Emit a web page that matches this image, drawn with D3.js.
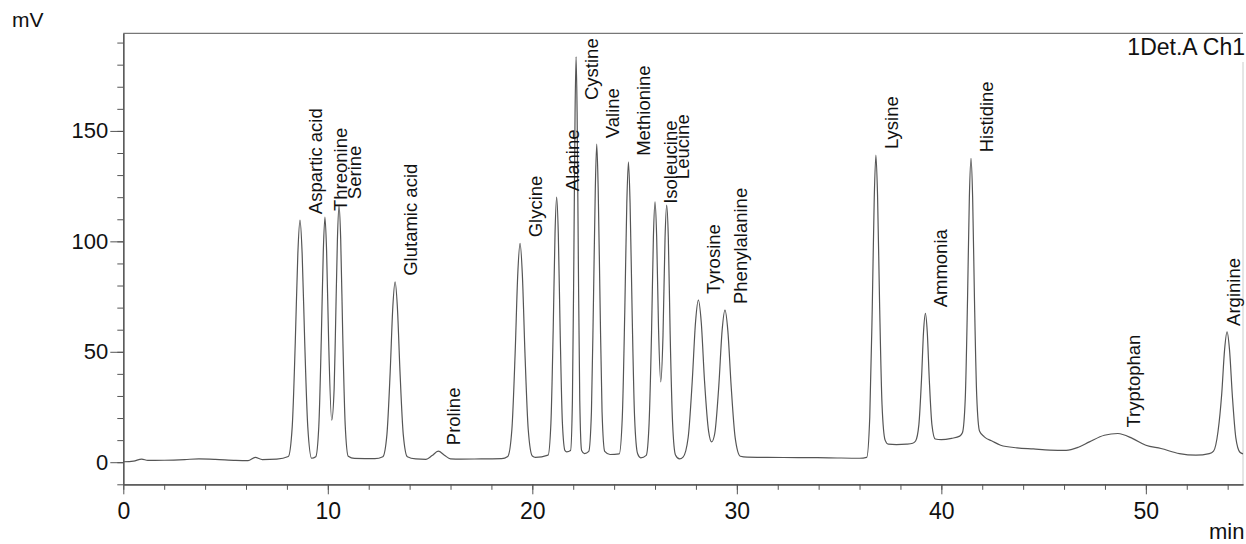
<!DOCTYPE html>
<html>
<head>
<meta charset="utf-8">
<script src="https://cdn.jsdelivr.net/npm/d3@7"></script>
<style>
  html, body { margin: 0; padding: 0; background: #fff; }
  svg { display: block; font-family: "Liberation Sans", Arial, sans-serif; }
</style>
</head>
<body>
<svg id="chart" width="1246" height="544"></svg>
<script>
// ---- data ----
const retention = [
  0, 0.5, 0.9, 1.2, 2.0, 3.0, 3.7, 4.5, 5.5, 6.1, 6.45, 6.8, 7.5,
  8.07, 8.26, 8.41, 8.535, 8.64, 8.745, 8.87, 9.02, 9.21,
  9.41, 9.56, 9.68, 9.78, 9.86, 9.94, 10.04, 10.19, 10.31, 10.37, 10.47, 10.55, 10.63, 10.73, 10.85, 11.0, 11.3,
  12.3, 12.69, 12.89, 13.05, 13.18, 13.29, 13.40, 13.53, 13.69, 13.89,
  14.3, 14.8, 15.1, 15.4, 15.7, 16.0, 16.5, 17.5, 18.5,
  18.8, 19.0, 19.16, 19.29, 19.4, 19.51, 19.64, 19.8, 20.0, 20.15,
  20.77, 20.91, 21.02, 21.11, 21.19, 21.27, 21.36, 21.47, 21.6, 21.68,
  21.87, 21.96, 22.03, 22.09, 22.14, 22.19, 22.25, 22.32, 22.41, 22.55,
  22.76, 22.89, 22.99, 23.08, 23.15, 23.22, 23.31, 23.41, 23.54, 23.8,
  24.25, 24.4, 24.52, 24.62, 24.7, 24.78, 24.88, 25.0, 25.15, 25.3,
  25.57, 25.71, 25.83, 25.92, 26.0, 26.08, 26.17, 26.28, 26.39, 26.49, 26.57, 26.65, 26.74, 26.86, 27.0, 27.2,
  27.37, 27.62, 27.82, 27.98, 28.12, 28.26, 28.42, 28.62, 28.77, 28.92, 29.12, 29.28, 29.42, 29.56, 29.72, 29.92, 30.17,
  30.5, 31.5, 33.0, 34.5, 36.0,
  36.35, 36.5, 36.62, 36.72, 36.8, 36.88, 36.98, 37.1, 37.25, 37.4,
  37.8, 38.3, 38.6,
  38.74, 38.9, 39.03, 39.13, 39.22, 39.31, 39.41, 39.54, 39.7,
  40.0, 40.5, 40.9,
  41.03, 41.17, 41.28, 41.37, 41.45, 41.53, 41.62, 41.73, 41.87,
  42.1, 42.5, 42.9, 43.7, 44.5, 45.3,
  46.1, 46.7, 47.24, 47.97, 48.63, 49.36, 50.0, 50.74, 51.64, 52.45, 53.1,
  53.31, 53.53, 53.71, 53.85, 53.97, 54.09, 54.23, 54.4, 54.6, 54.75
];
const signal = [
  0.2, 0.5, 1.4, 0.8, 0.9, 1.2, 1.5, 1.3, 0.8, 0.7, 2.2, 1.2, 1.4,
  2.6, 16.1, 54.5, 94.5, 109.6, 94.5, 54.5, 16.1, 1.8,
  2.5, 16.3, 55.2, 95.8, 111, 95.8, 55, 19, 33.5, 57.5, 101, 116.4, 101, 57.5, 17, 2.7, 1.7,
  1.6, 2.5, 12.5, 40.9, 70.5, 81.7, 70.5, 40.9, 12.5, 2.5,
  1.5, 1.3, 3.0, 5.0, 3.2, 1.5, 1.4, 1.5, 1.6,
  2.6, 14.8, 49.4, 85.5, 99.1, 85.5, 49.4, 14.8, 2.8, 2.2,
  3.2, 17.9, 59.8, 103.5, 120, 103.5, 59.8, 17.9, 5.2, 4.7,
  5.3, 27.8, 91.7, 158.3, 183.7, 158.3, 91.7, 27.8, 5.3, 3.9,
  4.9, 22.7, 73.3, 124, 144, 124, 73.3, 22.7, 4.9, 3.5,
  3.8, 20.5, 67.9, 117.3, 136, 117.3, 67.9, 20.5, 3.8, 2.0,
  3.1, 17.7, 58.8, 101.8, 117.9, 102, 61, 36.4, 57.5, 101.6, 116.4, 101.6, 58, 17.4, 3.3, 1.5,
  2.3, 11.2, 36.8, 63.4, 73.4, 63.4, 36.8, 14, 9.2, 13, 34.8, 59.6, 68.9, 59.6, 34.8, 11, 2.7,
  2.3, 2.2, 2.1, 2.0, 1.8,
  2.2, 20.5, 69, 120, 139.1, 121, 72, 26, 10, 8.2,
  8.0, 8.2, 8.6,
  9.6, 16.9, 37.6, 59.2, 67.4, 59.2, 37.6, 16.9, 10.5,
  10.2, 10.8, 11.8,
  13.3, 29, 73.5, 120, 137.6, 120, 73.5, 30, 14,
  11.5, 9.5, 7.7, 6.5, 6.0, 5.5,
  5.4, 6.8, 9.2, 12.2, 13, 10.7, 7.7, 6.2, 3.9, 3.2, 3.9,
  5, 14, 31, 51, 59, 51, 30, 11, 4.5, 3.8
];

const peakNames = ["Aspartic acid", "Threonine", "Serine", "Glutamic acid", "Proline",
  "Glycine", "Alanine", "Cystine", "Valine", "Methionine", "Isoleucine", "Leucine",
  "Tyrosine", "Phenylalanine", "Lysine", "Ammonia", "Histidine", "Tryptophan", "Arginine"];
const peakTimes = [8.64, 9.86, 10.55, 13.29, 15.4, 19.4, 21.19, 22.14, 23.15, 24.7, 26.0, 26.57,
  28.12, 29.42, 36.8, 39.22, 41.45, 48.63, 53.97];
const peakHeights = [109.6, 111, 116.4, 81.7, 5, 99.1, 120, 183.7, 144, 136, 117.9, 116.4,
  73.4, 68.9, 139.1, 67.4, 137.6, 13, 59];

const xMajorTicks = [0, 10, 20, 30, 40, 50];
const xMinorTicks = d3.range(0, 55, 2);
const yMajorTicks = [0, 50, 100, 150];
const yMinorTicks = d3.range(-10, 191, 10);

const yUnit = "mV";
const xUnit = "min";
const channelName = "1Det.A Ch1";

// ---- layout ----
const pLeft = 123.3, pRight = 1243, pTop = 33.3, pBottom = 484.3;
const labelNudge = { "Isoleucine": [0, 8], "Leucine": [0, -20], "Arginine": [-9, 0] };

const svg = d3.select("#chart");
const x = d3.scaleLinear().domain([0, 54.75]).range([pLeft, pRight]);
const y = d3.scaleLinear().domain([-10, 194.2]).range([pBottom, pTop]);

// frame (top + right)
svg.append("line").attr("x1", pLeft).attr("x2", pRight).attr("y1", pTop).attr("y2", pTop)
  .attr("stroke", "#777").attr("stroke-width", 1.2);
svg.append("line").attr("x1", pRight).attr("x2", pRight).attr("y1", 62).attr("y2", pBottom)
  .attr("stroke", "#ccc").attr("stroke-width", 1);

// y axis
const yMinor = svg.append("g").attr("transform", `translate(${pLeft},0)`)
  .call(d3.axisLeft(y).tickValues(yMinorTicks).tickSize(6).tickSizeOuter(0).tickFormat(""));
const yMajor = svg.append("g").attr("transform", `translate(${pLeft},0)`)
  .call(d3.axisLeft(y).tickValues(yMajorTicks).tickSize(13).tickSizeOuter(0).tickPadding(2));
// x axis
const xMinor = svg.append("g").attr("transform", `translate(0,${pBottom})`)
  .call(d3.axisBottom(x).tickValues(xMinorTicks).tickSize(5.5).tickSizeOuter(0).tickFormat(""));
const xMajor = svg.append("g").attr("transform", `translate(0,${pBottom})`)
  .call(d3.axisBottom(x).tickValues(xMajorTicks).tickSize(10).tickSizeOuter(0).tickPadding(8));

[yMinor, yMajor, xMinor, xMajor].forEach(g => {
  g.selectAll("path.domain").attr("stroke", "#555").attr("stroke-width", 1.2);
  g.selectAll(".tick line").attr("stroke", "#555").attr("stroke-width", 1);
});
yMajor.selectAll(".tick text").attr("font-size", 22).attr("fill", "#111")
  .attr("font-family", "'Liberation Sans', Arial, sans-serif");
xMajor.selectAll(".tick text").attr("font-size", 23).attr("fill", "#111")
  .attr("font-family", "'Liberation Sans', Arial, sans-serif");

// trace
const pts = retention.map((t, i) => [t, signal[i]]);
svg.append("path")
  .datum(pts)
  .attr("fill", "none")
  .attr("stroke", "#555")
  .attr("stroke-width", 1.2)
  .attr("stroke-linejoin", "round")
  .attr("d", d3.line().x(d => x(d[0])).y(d => y(d[1])).curve(d3.curveMonotoneX));

// peak labels (rotated)
const labelSize = 18.5;
const labels = svg.append("g").attr("font-size", labelSize).attr("fill", "#111");
peakNames.forEach((name, i) => {
  const nudge = labelNudge[name] || [0, 0];
  const t = labels.append("text").attr("text-anchor", "start").text(name);
  const len = t.node().getComputedTextLength();
  let sy = y(peakHeights[i]) - 6 + nudge[1];
  if (sy - len < pTop + 5) sy = pTop + 5 + len;
  const sx = x(peakTimes[i]) + 22 + nudge[0];
  t.attr("transform", `translate(${sx},${sy}) rotate(-90)`);
});

// units & channel
svg.append("text").attr("x", 12).attr("y", 27).attr("font-size", 21).attr("fill", "#111").text(yUnit);
svg.append("text").attr("x", 1209).attr("y", 539).attr("font-size", 22).attr("fill", "#111").text(xUnit);
svg.append("text").attr("x", 1245).attr("y", 55).attr("text-anchor", "end")
  .attr("font-size", 23).attr("fill", "#111").text(channelName);
</script>
</body>
</html>
